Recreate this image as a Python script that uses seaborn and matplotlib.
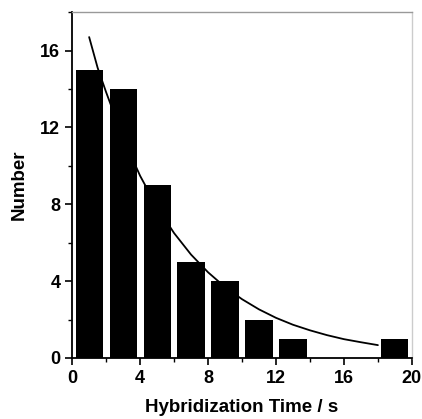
import matplotlib
matplotlib.use("Agg")
import matplotlib.pyplot as plt
import seaborn as sns
from matplotlib.ticker import MultipleLocator

# histogram of hybridization times
bin_centers = [1, 3, 5, 7, 9, 11, 13, 15, 17, 19]
counts = [15, 14, 9, 5, 4, 2, 1, 0, 0, 1]

# exponential fit curve
curve_x = [1, 1.5, 2, 3, 4, 5, 6, 7, 8, 9, 10, 11, 12, 13, 14, 15, 16, 17, 18]
curve_y = [16.7, 15.1, 13.83, 11.45, 9.48, 7.85, 6.50, 5.38, 4.46, 3.69,
           3.06, 2.53, 2.09, 1.73, 1.44, 1.19, 0.98, 0.82, 0.67]

sns.set_style("ticks")
plt.rcParams['font.family'] = ['Liberation Sans', 'DejaVu Sans']
plt.rcParams['text.color'] = 'black'
plt.rcParams['axes.labelcolor'] = 'black'
plt.rcParams['xtick.color'] = 'black'
plt.rcParams['ytick.color'] = 'black'

fig = plt.figure(figsize=(4.22, 4.19), dpi=100)
ax = fig.add_axes([0.171, 0.1456, 0.805, 0.8255])

sns.barplot(x=bin_centers, y=counts, native_scale=True, color="black",
            width=0.8, linewidth=0, saturation=1, ax=ax)
sns.lineplot(x=curve_x, y=curve_y, color="black", linewidth=1.3, ax=ax)

ax.set_xlim(0, 20)
ax.set_ylim(0, 18)
ax.xaxis.set_major_locator(MultipleLocator(4))
ax.xaxis.set_minor_locator(MultipleLocator(2))
ax.yaxis.set_major_locator(MultipleLocator(4))
ax.yaxis.set_minor_locator(MultipleLocator(2))

for s in ["left", "bottom"]:
    ax.spines[s].set_color("black")
    ax.spines[s].set_linewidth(1.3)
ax.spines["top"].set_color("#999999")
ax.spines["right"].set_color("#cccccc")
ax.spines["top"].set_linewidth(1.0)
ax.spines["right"].set_linewidth(1.0)

ax.tick_params(which="major", direction="out", length=5, width=1.2,
               labelsize=13, top=False, right=False)
ax.tick_params(which="minor", direction="out", length=3, width=1.0,
               top=False, right=False)
for lab in ax.get_xticklabels() + ax.get_yticklabels():
    lab.set_fontweight("bold")

ax.set_xlabel("Hybridization Time / s", fontsize=13.5, fontweight="bold", labelpad=9)
ax.set_ylabel("Number", fontsize=13.5, fontweight="bold", labelpad=9)

fig.savefig("out.png", dpi=100)
